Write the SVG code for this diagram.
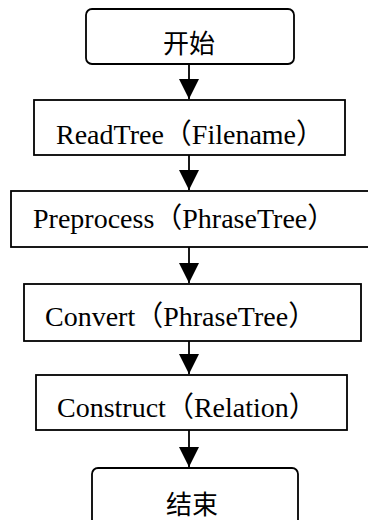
<svg xmlns="http://www.w3.org/2000/svg" width="368" height="520" viewBox="0 0 368 520">
  <style>
    .box { fill: #ffffff; stroke: #000000; stroke-width: 1.8; }
    .lbl { font-family: "Liberation Serif", "Noto Sans CJK SC", serif; font-size: 28px; fill: #000000; }
    .cjk { font-family: "Noto Sans CJK SC", sans-serif; font-size: 26px; fill: #000000; text-anchor: middle; }
    .edge { stroke: #000000; stroke-width: 1.8; fill: none; }
  </style>
  <defs>
    <marker id="arrow" markerUnits="userSpaceOnUse" markerWidth="22" markerHeight="22" viewBox="0 0 22 22" refX="11" refY="21" orient="0">
      <path d="M1,1 L21,1 L11,21 Z" fill="#000000"/>
    </marker>
  </defs>
  <rect width="368" height="520" fill="#ffffff"/>

  <!-- vertical flow arrows between the steps -->
  <g id="connectors">
    <path class="edge" d="M189,64 V99" marker-end="url(#arrow)"/>
    <path class="edge" d="M189,155 V190" marker-end="url(#arrow)"/>
    <path class="edge" d="M189,247 V283" marker-end="url(#arrow)"/>
    <path class="edge" d="M189,341 V374" marker-end="url(#arrow)"/>
    <path class="edge" d="M189,430 V467" marker-end="url(#arrow)"/>
  </g>

  <g id="start">
    <rect class="box" x="86" y="9" width="208" height="55" rx="6"/>
    <text class="cjk" x="189" y="53">开始</text>
  </g>

  <g id="readtree">
    <rect class="box" x="34" y="100" width="311" height="55"/>
    <text class="lbl" x="56" y="144">ReadTree（Filename）</text>
  </g>

  <g id="preprocess">
    <rect class="box" x="11" y="191" width="362" height="56"/>
    <text class="lbl" x="33" y="228">Preprocess（PhraseTree）</text>
  </g>

  <g id="convert">
    <rect class="box" x="24" y="284" width="337" height="57"/>
    <text class="lbl" x="45" y="326">Convert（PhraseTree）</text>
  </g>

  <g id="construct">
    <rect class="box" x="36" y="375" width="311" height="55"/>
    <text class="lbl" x="57" y="417">Construct（Relation）</text>
  </g>

  <g id="end">
    <rect class="box" x="92" y="468" width="206" height="60" rx="6"/>
    <text class="cjk" x="192" y="514">结束</text>
  </g>
</svg>
